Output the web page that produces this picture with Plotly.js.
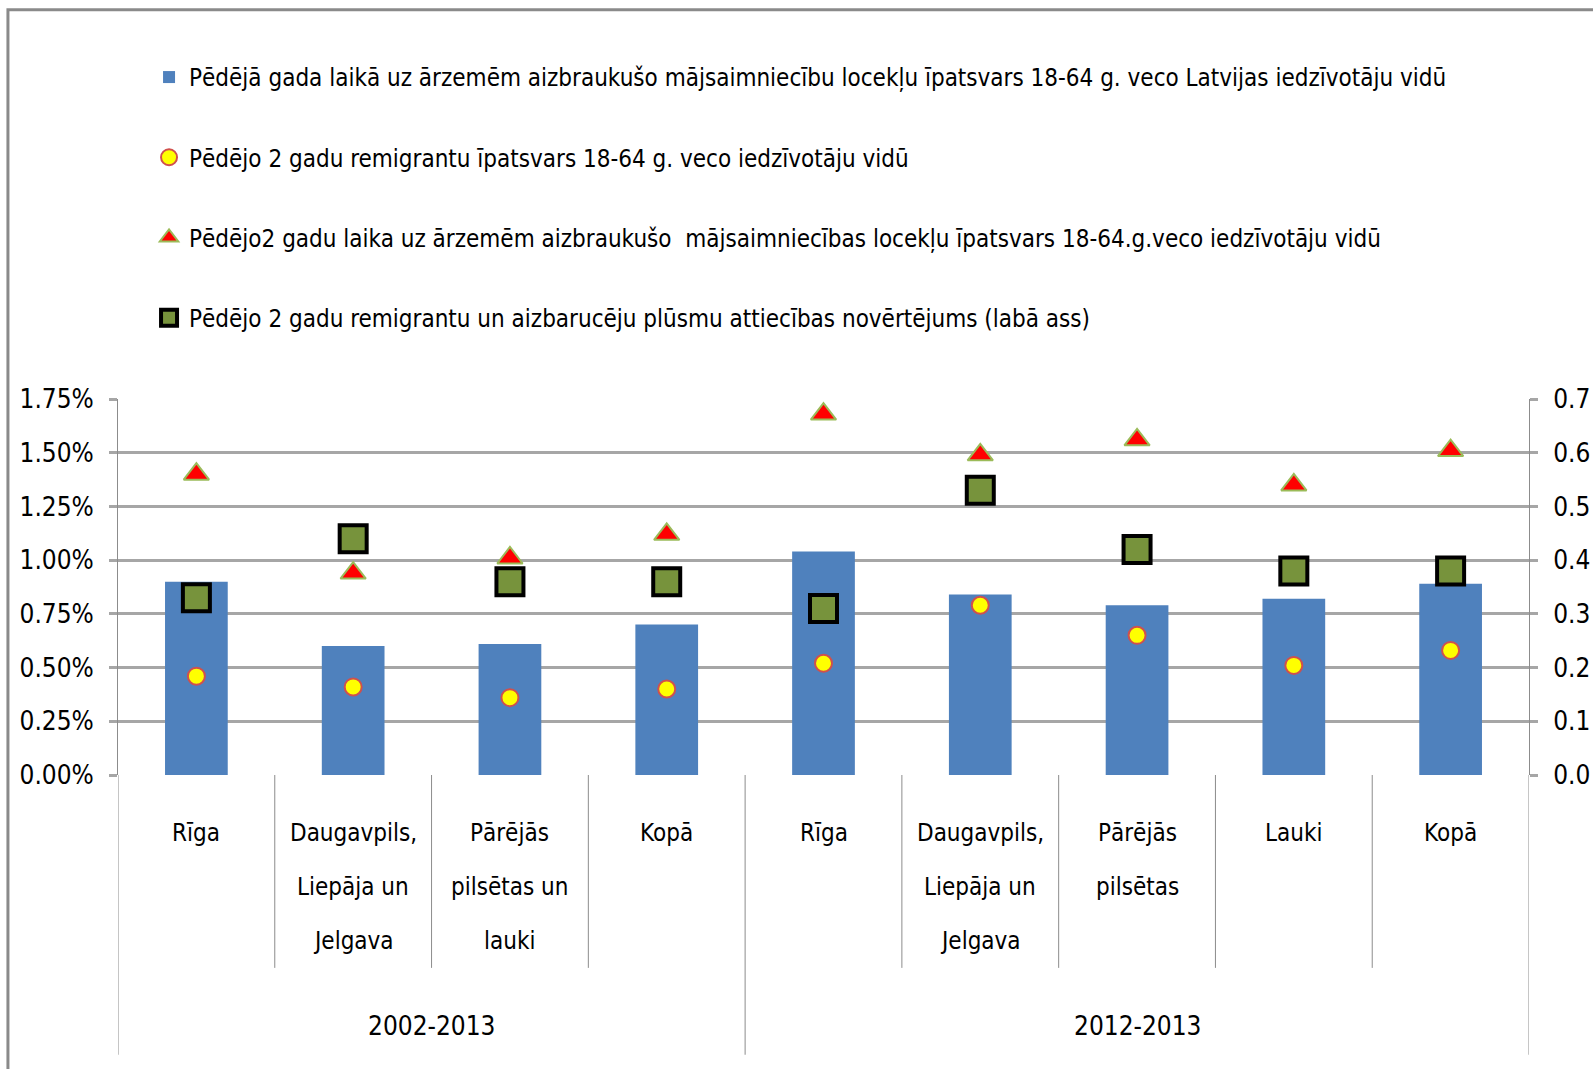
<!DOCTYPE html>
<html>
<head>
<meta charset="utf-8">
<script src="https://cdn.plot.ly/plotly-3.0.1.min.js"></script>
<style>html,body{margin:0;padding:0;background:#fff;}#chart{width:1593px;height:1069px;}</style>
</head>
<body>
<div id="chart"></div>
<script>
// ---- data ----
const groups = ['2002-2013', '2012-2013'];
const groupOf = [0, 0, 0, 0, 1, 1, 1, 1, 1];
const categoryLines = [
  ['Rīga'],
  ['Daugavpils,', 'Liepāja un', 'Jelgava'],
  ['Pārējās', 'pilsētas un', 'lauki'],
  ['Kopā'],
  ['Rīga'],
  ['Daugavpils,', 'Liepāja un', 'Jelgava'],
  ['Pārējās', 'pilsētas'],
  ['Lauki'],
  ['Kopā']
];
const xIdx = [0, 1, 2, 3, 4, 5, 6, 7, 8];
const emigrantsLastYear = [0.90, 0.60, 0.61, 0.70, 1.04, 0.84, 0.79, 0.82, 0.89];      // %
const remigrants2y      = [0.46, 0.41, 0.36, 0.40, 0.52, 0.79, 0.65, 0.51, 0.58];      // %
const emigrants2y       = [1.40, 0.94, 1.01, 1.12, 1.68, 1.49, 1.56, 1.35, 1.51];      // %
const flowRatio         = [0.33, 0.44, 0.36, 0.36, 0.31, 0.53, 0.42, 0.38, 0.38];      // right axis
const seriesNames = [
  'Pēdējā gada laikā uz ārzemēm aizbraukušo mājsaimniecību locekļu īpatsvars 18-64 g. veco Latvijas iedzīvotāju vidū',
  'Pēdējo 2 gadu remigrantu īpatsvars 18-64 g. veco iedzīvotāju vidū',
  'Pēdējo2 gadu laika uz ārzemēm aizbraukušo  mājsaimniecības locekļu īpatsvars 18-64.g.veco iedzīvotāju vidū',
  'Pēdējo 2 gadu remigrantu un aizbarucēju plūsmu attiecības novērtējums (labā ass)'
];

const FONT = '"Liberation Sans Narrow", "DejaVu Sans Condensed", "DejaVu Sans", sans-serif';

const traces = [
  {type: 'bar', x: xIdx, y: emigrantsLastYear, name: seriesNames[0], width: 0.4,
   marker: {color: '#4F81BD'}, legendgroup: 'a', yaxis: 'y'},
  {type: 'scatter', mode: 'markers', x: xIdx, y: remigrants2y, name: seriesNames[1],
   marker: {symbol: 'circle', size: 17, color: '#FFFF00', line: {color: '#D0504D', width: 2}},
   legendgroup: 'b', yaxis: 'y'},
  {type: 'scatter', mode: 'markers', x: xIdx, y: emigrants2y, name: seriesNames[2],
   marker: {symbol: 'triangle-up', size: 22, color: '#FF0000', line: {color: '#9BBB59', width: 2}},
   legendgroup: 'c', yaxis: 'y'},
  {type: 'scatter', mode: 'markers', x: xIdx, y: flowRatio, name: seriesNames[3],
   marker: {symbol: 'square', size: 27, color: '#77933C', line: {color: '#000000', width: 4}},
   legendgroup: 'd', yaxis: 'y2'}
];

const annotations = [];
const lineShifts = [-58, -112, -166];
categoryLines.forEach((lines, i) => {
  lines.forEach((t, j) => {
    annotations.push({xref: 'x', yref: 'paper', x: xIdx[i], y: 0, yshift: lineShifts[j],
      text: t, showarrow: false, yanchor: 'middle', xanchor: 'center',
      font: {family: FONT, size: 24, color: '#000'}});
  });
});
groups.forEach((g, gi) => {
  const members = xIdx.filter((_, i) => groupOf[i] === gi);
  const center = (members[0] + members[members.length - 1]) / 2;
  annotations.push({xref: 'x', yref: 'paper', x: center, y: 0, yshift: -251,
    text: g, showarrow: false, yanchor: 'middle', xanchor: 'center',
    font: {family: FONT, size: 26, color: '#000'}});
});

const shapes = [];
// dividers between categories
for (let k = 0; k <= xIdx.length; k++) {
  const xb = k - 0.5;
  const isGroupEdge = (k === 0 || k === xIdx.length || groupOf[k] !== groupOf[k - 1]);
  shapes.push({type: 'line', xref: 'x', yref: 'paper', x0: xb, x1: xb, y0: 0,
    y1: isGroupEdge ? -0.744 : -0.513, line: {color: '#8C8C8C', width: 1}});
}
// outer chart frame
shapes.push({type: 'rect', xref: 'paper', yref: 'paper', x0: -0.078, x1: 1.2, y0: -1.0, y1: 2.035,
  line: {color: '#8A8A8A', width: 3}, fillcolor: 'rgba(0,0,0,0)', layer: 'below'});

const layout = {
  width: 1593, height: 1069,
  margin: {l: 118, r: 64, t: 399, b: 294},
  paper_bgcolor: '#fff', plot_bgcolor: '#fff',
  font: {family: FONT, size: 24, color: '#000'},
  bargap: 0.6,
  showlegend: true,
  legend: {x: 0.022, y: 1.915, xanchor: 'left', yanchor: 'top', traceorder: 'grouped',
    tracegroupgap: 46, font: {family: FONT, size: 24, color: '#000'}, bgcolor: 'rgba(0,0,0,0)'},
  xaxis: {range: [-0.5, 8.5], showticklabels: false, showgrid: false, zeroline: false,
    showline: false, ticks: '', fixedrange: true},
  yaxis: {range: [0, 1.75], dtick: 0.25, tick0: 0, tickformat: '.2f', ticksuffix: '%',
    showgrid: true, gridcolor: '#A6A6A6', gridwidth: 3, zeroline: false,
    showline: true, linecolor: '#8C8C8C', linewidth: 1, ticks: 'outside', ticklen: 8,
    ticklabelstandoff: 10,
    tickcolor: '#A6A6A6', tickwidth: 3, tickfont: {family: FONT, size: 26, color: '#000'}},
  yaxis2: {range: [0, 0.7], dtick: 0.1, tick0: 0, tickformat: '.1f', overlaying: 'y', side: 'right',
    showgrid: false, zeroline: false, showline: true, linecolor: '#8C8C8C', linewidth: 1,
    ticks: 'outside', ticklen: 8, tickcolor: '#A6A6A6', tickwidth: 3, ticklabelstandoff: 10,
    tickfont: {family: FONT, size: 26, color: '#000'}},
  annotations: annotations,
  shapes: shapes
};

Plotly.newPlot('chart', traces, layout, {displayModeBar: false, staticPlot: true});
</script>
</body>
</html>
